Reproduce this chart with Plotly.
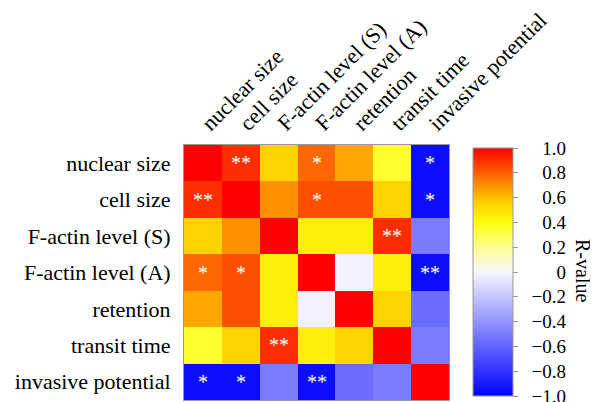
import plotly.graph_objects as go

labels = ["nuclear size", "cell size", "F-actin level (S)", "F-actin level (A)",
          "retention", "transit time", "invasive potential"]

r_values = [
    [1.00, 0.90, 0.55, 0.78, 0.65, 0.35, -0.95],
    [0.90, 1.00, 0.70, 0.83, 0.83, 0.55, -0.95],
    [0.55, 0.70, 1.00, 0.45, 0.45, 0.90, -0.50],
    [0.78, 0.83, 0.45, 1.00, -0.02, 0.45, -0.95],
    [0.65, 0.83, 0.45, -0.02, 1.00, 0.55, -0.56],
    [0.35, 0.55, 0.90, 0.45, 0.55, 1.00, -0.50],
    [-0.95, -0.95, -0.50, -0.95, -0.56, -0.50, 1.00],
]

stars = [
    ["", "**", "", "*", "", "", "*"],
    ["**", "", "", "*", "", "", "*"],
    ["", "", "", "", "", "**", ""],
    ["*", "*", "", "", "", "", "**"],
    ["", "", "", "", "", "", ""],
    ["", "", "**", "", "", "", ""],
    ["*", "*", "", "**", "", "", ""],
]

tick_vals = [1.0, 0.8, 0.6, 0.4, 0.2, 0, -0.2, -0.4, -0.6, -0.8, -1.0]
tick_text = ["1.0", "0.8", "0.6", "0.4", "0.2", "0", "\u22120.2", "\u22120.4",
             "\u22120.6", "\u22120.8", "\u22121.0"]
colorbar_title = "R-value"

colorscale = [
    [0.0, "#0000FF"],
    [0.5, "#F6F6FF"],
    [0.6, "#FFFF90"],
    [0.7, "#FFFF10"],
    [0.78, "#FFD000"],
    [0.85, "#FF9000"],
    [0.92, "#FF4A00"],
    [1.0, "#FF0000"],
]

font_family = "Liberation Serif, Times New Roman, serif"

# page body has an 8px margin, so the figure is shifted by (8, 8)
W, H = 590, 394
ML, MR, MT, MB = 176, 2, 137, 2
plot_w = W - ML - MR
plot_h = H - MT - MB


def px_x(screen_x):
    return (screen_x - 8 - ML) / plot_w


def px_y(screen_y):
    return (H - MB - (screen_y - 8)) / plot_h


cb_top, cb_bot = 148, 396
n = len(labels)

fig = go.Figure(go.Heatmap(
    z=r_values, x=labels, y=labels,
    zmin=-1, zmax=1,
    colorscale=colorscale,
    text=stars, texttemplate="%{text}",
    textfont=dict(color="white", size=20, family=font_family),
    xgap=0, ygap=0,
    colorbar=dict(
        x=px_x(473), xanchor="left", xref="paper", xpad=0,
        y=(px_y(cb_top) + px_y(cb_bot)) / 2, yanchor="middle", ypad=0,
        thickness=40, lenmode="pixels", len=cb_bot - cb_top,
        outlinewidth=1, outlinecolor="#999999",
        tickvals=tick_vals, showticklabels=False,
        ticks="outside", ticklen=5, tickcolor="#999999",
    ),
))

# right-aligned labels for the colour scale, on an axis with the same range
fig.add_trace(go.Scatter(x=[0], y=[0], xaxis="x2", yaxis="y2", mode="markers",
                         marker=dict(opacity=0, size=1),
                         showlegend=False, hoverinfo="skip"))

fig.add_annotation(
    text=colorbar_title, textangle=90,
    xref="paper", yref="paper", x=px_x(583), y=px_y(270),
    xanchor="center", yanchor="middle", showarrow=False,
    font=dict(size=20, family=font_family, color="black"),
)

fig.update_layout(
    width=W, height=H,
    margin=dict(l=ML, r=MR, t=MT, b=MB),
    paper_bgcolor="white", plot_bgcolor="white",
    font=dict(family=font_family),
    xaxis=dict(domain=[0, 265 / plot_w], side="top", tickangle=-45,
               range=[-0.5, n - 0.5],
               showgrid=False, automargin=False,
               tickfont=dict(size=22, family=font_family, color="black"),
               showline=True, linecolor="#999999", linewidth=1, mirror=True,
               ticks="", ticklen=0),
    yaxis=dict(range=[n - 0.5, -0.5], showgrid=False, automargin=False,
               tickfont=dict(size=22, family=font_family, color="black"),
               showline=True, linecolor="#999999", linewidth=1, mirror=True,
               ticks="", ticklen=0, ticklabelstandoff=8),
    xaxis2=dict(domain=[0.985, 1], anchor="y2", visible=False,
                range=[-1, 1]),
    yaxis2=dict(anchor="free", position=px_x(566), side="left",
                domain=[px_y(cb_bot), px_y(cb_top)],
                range=[-1, 1], tickvals=tick_vals, ticktext=tick_text,
                showgrid=False, zeroline=False, showline=False,
                ticks="", ticklabelstandoff=0, automargin=False,
                ticklabeloverflow="allow",
                tickfont=dict(size=19, family=font_family, color="black")),
)

fig.write_html("out.html")
